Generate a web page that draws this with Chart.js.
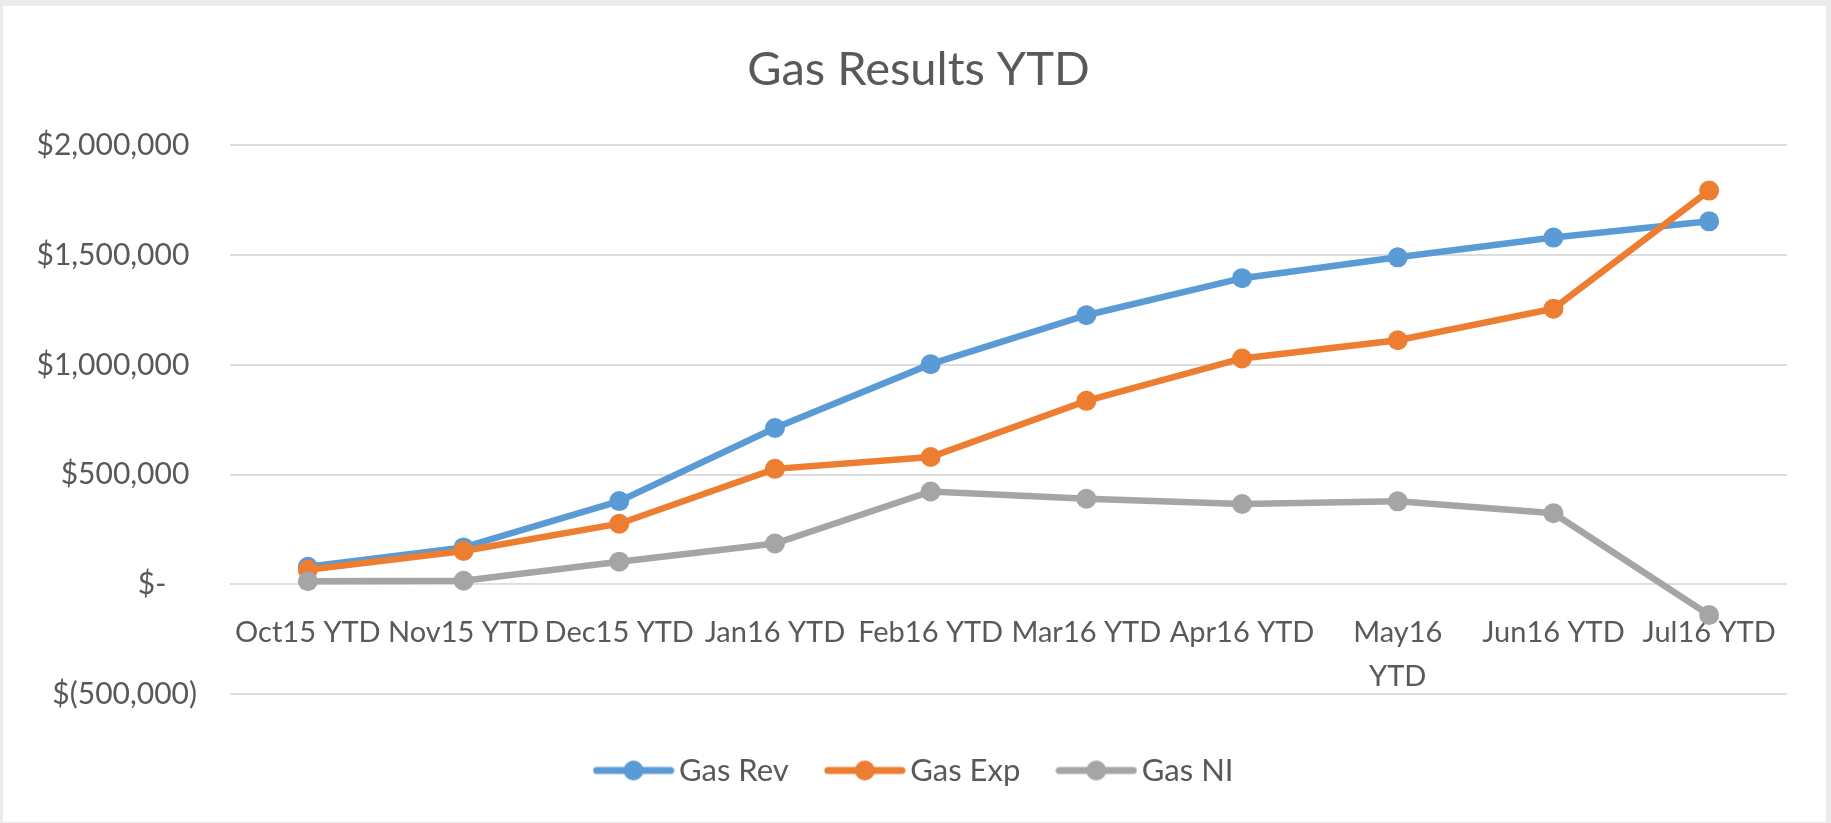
<!DOCTYPE html>
<html>
<head>
<meta charset="utf-8">
<title>Gas Results YTD</title>
<script src="https://cdn.jsdelivr.net/npm/chart.js@4.4.1/dist/chart.umd.min.js"></script>
<style>
    html, body {
        margin: 0;
        padding: 0;
        background: #e9ebed;
        overflow: hidden;
    }
    #box {
        position: absolute;
        left: 3px;
        top: 6px;
        width: 1823px;
        height: 816px;
        background: #ffffff;
    }
</style>
</head>
<body>
<div id="box">
    <canvas id="chart"></canvas>
</div>
<script>

const categories = ['Oct15 YTD', 'Nov15 YTD', 'Dec15 YTD', 'Jan16 YTD', 'Feb16 YTD',
    'Mar16 YTD', 'Apr16 YTD', ['May16', 'YTD'], 'Jun16 YTD', 'Jul16 YTD'];

const gasRev = [80000, 168000, 379000, 712000, 1003000, 1226000, 1395000, 1490000, 1580000, 1654000];
const gasExp = [66000, 152000, 276000, 526000, 580000, 836000, 1029000, 1112000, 1256000, 1794000];
const gasNI = [14000, 16000, 103000, 186000, 423000, 390000, 366000, 378000, 324000, -140000];

const yTicks = [-500000, 0, 500000, 1000000, 1500000, 2000000];
const yTickLabels = ['$(500,000)', '$-', '$500,000', '$1,000,000', '$1,500,000', '$2,000,000'];

const textColor = '#595959';
const colors = ['#5b9bd5', '#ed7d31', '#a5a5a5'];

Chart.defaults.font.family = "Lato, 'Open Sans', sans-serif";
Chart.defaults.color = textColor;

// legend icon: short line with a dot in the middle, like Excel
function makeIcon(color) {
    let c = document.createElement('canvas');
    c.width = 82;
    c.height = 22;
    let ctx = c.getContext('2d');
    ctx.strokeStyle = color;
    ctx.lineWidth = 7;
    ctx.lineCap = 'round';
    ctx.beginPath();
    ctx.moveTo(4, 11);
    ctx.lineTo(78, 11);
    ctx.stroke();
    ctx.fillStyle = color;
    ctx.beginPath();
    ctx.arc(41, 11, 10, 0, Math.PI * 2);
    ctx.fill();
    return c;
}
const icons = colors.map(makeIcon);

function lineSet(label, data, color, order) {
    return {
        label: label,
        data: data,
        borderColor: color,
        backgroundColor: color,
        borderWidth: 6.5,
        tension: 0,
        fill: false,
        order: order,
        pointRadius: 10,
        pointHoverRadius: 10,
        pointBorderWidth: 0,
        pointBackgroundColor: color
    };
}

new Chart(document.getElementById('chart'), {
    type: 'line',
    data: {
        labels: categories,
        datasets: [
            lineSet('Gas Rev', gasRev, colors[0], 3),
            lineSet('Gas Exp', gasExp, colors[1], 2),
            lineSet('Gas NI', gasNI, colors[2], 1)
        ]
    },
    options: {
        responsive: true,
        maintainAspectRatio: false,
        animation: false,
        layout: {
            padding: { left: 8, right: 0, top: 0, bottom: 26 }
        },
        scales: {
            x: {
                position: { y: 0 },
                offset: true,
                grid: { display: false },
                border: { display: false },
                ticks: {
                    autoSkip: false,
                    maxRotation: 0,
                    padding: 19,
                    font: { size: 29, lineHeight: 1.5 },
                    color: textColor
                }
            },
            y: {
                min: -500000,
                max: 2000000,
                grid: { color: '#dedede', lineWidth: 2, drawTicks: false },
                border: { display: false },
                ticks: {
                    stepSize: 500000,
                    padding: 33,
                    font: { size: 30 },
                    color: textColor,
                    callback: function(value) {
                        let i = yTicks.indexOf(value);
                        if (i < 0) return '';
                        if (value === 0) return yTickLabels[i] + '    ';
                        if (value > 0) return yTickLabels[i] + ' ';
                        return yTickLabels[i];
                    }
                },
                afterFit: function(scale) {
                    scale.width = 219;
                }
            },
            // empty axis on the right, only to keep the margin there
            yr: {
                type: 'linear',
                position: 'right',
                grid: { display: false },
                border: { display: false },
                ticks: { display: false },
                afterFit: function(scale) {
                    scale.width = 39;
                }
            }
        },
        plugins: {
            title: {
                display: true,
                text: 'Gas Results YTD',
                color: textColor,
                font: { size: 47, weight: 'normal', lineHeight: 1.2 },
                padding: { top: 36, bottom: 47 }
            },
            legend: {
                position: 'bottom',
                title: {
                    display: true,
                    text: '',
                    font: { size: 15, lineHeight: 1 },
                    padding: 0
                },
                labels: {
                    usePointStyle: true,
                    pointStyleWidth: 60,
                    padding: 46,
                    color: textColor,
                    font: { size: 31 },
                    generateLabels: function(chart) {
                        let items = Chart.defaults.plugins.legend.labels.generateLabels(chart);
                        items.sort((a, b) => a.datasetIndex - b.datasetIndex);
                        items.forEach(item => {
                            item.pointStyle = icons[item.datasetIndex];
                        });
                        return items;
                    }
                }
            },
            tooltip: { enabled: false }
        }
    }
});
</script>
</body>
</html>
